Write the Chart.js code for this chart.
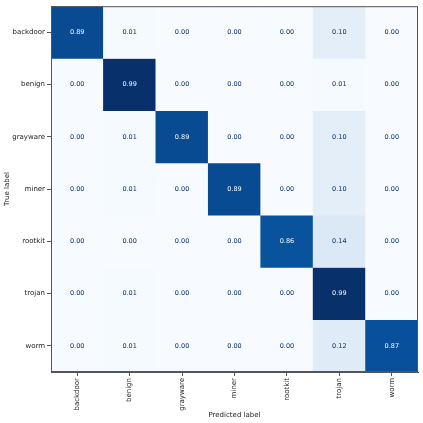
<!DOCTYPE html>
<html>
<head>
<meta charset="utf-8">
<script src="https://cdn.jsdelivr.net/npm/chart.js@4/dist/chart.umd.min.js"></script>
<style>
  html, body { margin: 0; padding: 0; background: #fff; }
  #wrap { width: 423px; height: 423px; }
</style>
</head>
<body>
<div id="wrap"><canvas id="cm"></canvas></div>
<script>
// Matriz de confusión normalizada (filas = etiqueta real)
const PRED_LABELS = ['backdoor', 'benign', 'grayware', 'miner', 'rootkit', 'trojan', 'worm'];
const TRUE_LABELS = ['backdoor', 'benign', 'grayware', 'miner', 'rootkit', 'trojan', 'worm'];

const ROW_BACKDOOR = [0.89, 0.01, 0.00, 0.00, 0.00, 0.10, 0.00];
const ROW_BENIGN   = [0.00, 0.99, 0.00, 0.00, 0.00, 0.01, 0.00];
const ROW_GRAYWARE = [0.00, 0.01, 0.89, 0.00, 0.00, 0.10, 0.00];
const ROW_MINER    = [0.00, 0.01, 0.00, 0.89, 0.00, 0.10, 0.00];
const ROW_ROOTKIT  = [0.00, 0.00, 0.00, 0.00, 0.86, 0.14, 0.00];
const ROW_TROJAN   = [0.00, 0.01, 0.00, 0.00, 0.00, 0.99, 0.00];
const ROW_WORM     = [0.00, 0.01, 0.00, 0.00, 0.00, 0.12, 0.87];

const ROWS = [ROW_BACKDOOR, ROW_BENIGN, ROW_GRAYWARE, ROW_MINER, ROW_ROOTKIT, ROW_TROJAN, ROW_WORM];

// Paleta "Blues" de matplotlib
const BLUES = ['#f7fbff','#deebf7','#c6dbef','#9ecae1','#6baed6','#4292c6','#2171b5','#08519c','#08306b'];
const VMAX = Math.max(...ROWS.flat());

function hexToRgb(h) {
  return [1, 3, 5].map(i => parseInt(h.slice(i, i + 2), 16));
}
function blues(v) {
  const t = Math.min(1, Math.max(0, v / VMAX)) * (BLUES.length - 1);
  const i = Math.min(BLUES.length - 2, Math.floor(t));
  const f = t - i;
  const a = hexToRgb(BLUES[i]), b = hexToRgb(BLUES[i + 1]);
  const c = a.map((x, k) => Math.round(x + (b[k] - x) * f));
  return `rgb(${c[0]},${c[1]},${c[2]})`;
}

Chart.defaults.font.family = "'DejaVu Sans', sans-serif";
Chart.defaults.color = '#222';

const AXIS_COLOR = '#555';

/* ---------- Texto dentro de cada celda + marco ---------- */
const cellText = {
  id: 'cellText',
  afterDatasetsDraw(chart) {
    const ctx = chart.ctx;
    ctx.save();
    ctx.font = "6.5px 'DejaVu Sans', sans-serif";
    ctx.textAlign = 'center';
    ctx.textBaseline = 'middle';
    chart.data.datasets.forEach((ds, di) => {
      const meta = chart.getDatasetMeta(di);
      meta.data.forEach((el, j) => {
        const v = ROWS[di][j];
        ctx.fillStyle = v > VMAX / 2 ? BLUES[0] : BLUES[8];
        ctx.fillText(v.toFixed(2), el.x, (el.y + el.base) / 2);
      });
    });
    const a = chart.chartArea;
    ctx.strokeStyle = AXIS_COLOR;
    ctx.lineWidth = 1;
    ctx.strokeRect(a.left + 0.5, a.top + 0.5, a.right - a.left - 1, a.bottom - a.top - 1);
    ctx.restore();
  }
};

const datasets = ROWS.map((row, i) => ({
  label: TRUE_LABELS[i],
  data: row.map(() => 1),
  backgroundColor: row.map(v => blues(v)),
  borderWidth: 0,
  barPercentage: 1,
  categoryPercentage: 1,
}));

new Chart(document.getElementById('cm'), {
  type: 'bar',
  data: { labels: PRED_LABELS, datasets },
  options: {
    responsive: true, maintainAspectRatio: false, animation: false,
    layout: { padding: { top: 4, right: 5, left: 0, bottom: 0 } },
    scales: {
      x: {
        stacked: true,
        afterFit: s => { s.height = 51; },
        grid: { offset: false, drawOnChartArea: false, drawTicks: true, tickLength: 4, color: AXIS_COLOR },
        border: { display: true, color: AXIS_COLOR },
        ticks: { minRotation: 90, maxRotation: 90, padding: 2, font: { size: 7 }, color: '#222' },
        title: { display: true, text: 'Predicted label', font: { size: 7 }, color: '#222', padding: { top: 4, bottom: 4 } },
      },
      y: {
        stacked: true, reverse: true, min: 0, max: ROWS.length,
        afterFit: s => { s.width = 51; },
        afterBuildTicks: s => { s.ticks = TRUE_LABELS.map((_, i) => ({ value: i + 0.5 })); },
        grid: { drawOnChartArea: false, drawTicks: true, tickLength: 4, color: AXIS_COLOR },
        border: { display: true, color: AXIS_COLOR },
        ticks: { autoSkip: false, padding: 2, font: { size: 7 }, color: '#222', callback: (v, i) => TRUE_LABELS[i] },
        title: { display: true, text: 'True label', font: { size: 7 }, color: '#222', padding: { top: 3, bottom: 0 } },
      },
    },
    plugins: {
      legend: { display: false },
      tooltip: { enabled: false },
    },
  },
  plugins: [cellText],
});
</script>
</body>
</html>
